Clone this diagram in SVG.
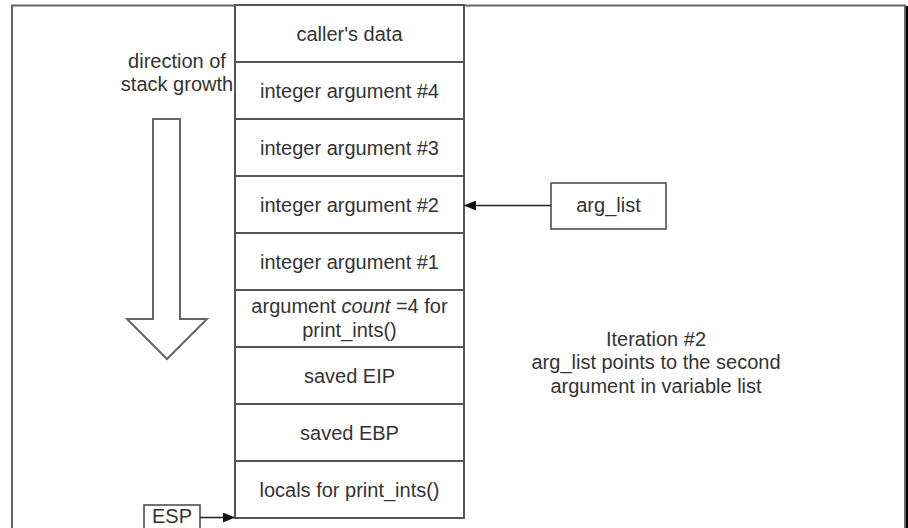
<svg xmlns="http://www.w3.org/2000/svg" width="908" height="528" viewBox="0 0 908 528">
  <style>
    text { font-family: "Liberation Sans", Arial, sans-serif; font-size: 20px; fill: #333; text-anchor: middle; }
    .cell { fill: #fff; stroke: #555; stroke-width: 2; }
    .box { fill: #fff; stroke: #444; stroke-width: 1.5; }
    .link { stroke: #222; stroke-width: 1.5; fill: none; }
    .frame { fill: none; stroke: #666; stroke-width: 2; }
  </style>
  <defs>
    <marker id="arrow" markerWidth="12" markerHeight="10" refX="11" refY="5" orient="auto" markerUnits="userSpaceOnUse">
      <path d="M0,0 L12,5 L0,10 Z" fill="#111"/>
    </marker>
  </defs>

  <rect width="908" height="528" fill="#fff"/>

  <!-- page frame -->
  <path class="frame" d="M12,528 V5.5 H905 V528"/>
  <line x1="907" y1="6" x2="907" y2="528" stroke="#000" stroke-width="2"/>

  <!-- stack growth direction -->
  <g id="growth">
    <text x="177" y="68">direction of</text>
    <text x="177" y="91">stack growth</text>
    <path d="M153,119 H180 V319 H207 L167,359 L127,319 H153 Z" fill="#fff" stroke="#666" stroke-width="2" stroke-linejoin="miter"/>
  </g>

  <!-- stack frame cells -->
  <g id="stack">
    <g id="callers-data"><rect class="cell" x="235" y="5" width="229" height="57"/><text x="349.5" y="41">caller's data</text></g>
    <g id="arg4"><rect class="cell" x="235" y="62" width="229" height="57"/><text x="349.5" y="98">integer argument #4</text></g>
    <g id="arg3"><rect class="cell" x="235" y="119" width="229" height="57"/><text x="349.5" y="155">integer argument #3</text></g>
    <g id="arg2"><rect class="cell" x="235" y="176" width="229" height="57"/><text x="349.5" y="212">integer argument #2</text></g>
    <g id="arg1"><rect class="cell" x="235" y="233" width="229" height="57"/><text x="349.5" y="269">integer argument #1</text></g>
    <g id="arg-count"><rect class="cell" x="235" y="290" width="229" height="57"/>
      <text x="349.5" y="313">argument <tspan font-style="italic">count</tspan> =4 for</text>
      <text x="349.5" y="337">print_ints()</text>
    </g>
    <g id="saved-eip"><rect class="cell" x="235" y="347" width="229" height="57"/><text x="349.5" y="383">saved EIP</text></g>
    <g id="saved-ebp"><rect class="cell" x="235" y="404" width="229" height="57"/><text x="349.5" y="440">saved EBP</text></g>
    <g id="locals"><rect class="cell" x="235" y="461" width="229" height="57"/><text x="349.5" y="497">locals for print_ints()</text></g>
  </g>

  <!-- pointer boxes -->
  <g id="arg-list">
    <rect class="box" x="551" y="183" width="115" height="46"/>
    <text x="608.5" y="212">arg_list</text>
  </g>
  <g id="esp">
    <rect class="box" x="144" y="505" width="56" height="30"/>
    <text x="172" y="523">ESP</text>
  </g>

  <!-- connectors -->
  <g id="connectors">
    <line class="link" x1="551" y1="205.5" x2="465" y2="205.5" marker-end="url(#arrow)"/>
    <line class="link" x1="200" y1="517.5" x2="234" y2="517.5" marker-end="url(#arrow)"/>
  </g>

  <!-- annotation -->
  <g id="note">
    <text x="656" y="346">Iteration #2</text>
    <text x="656" y="369">arg_list points to the second</text>
    <text x="656" y="393">argument in variable list</text>
  </g>
</svg>
